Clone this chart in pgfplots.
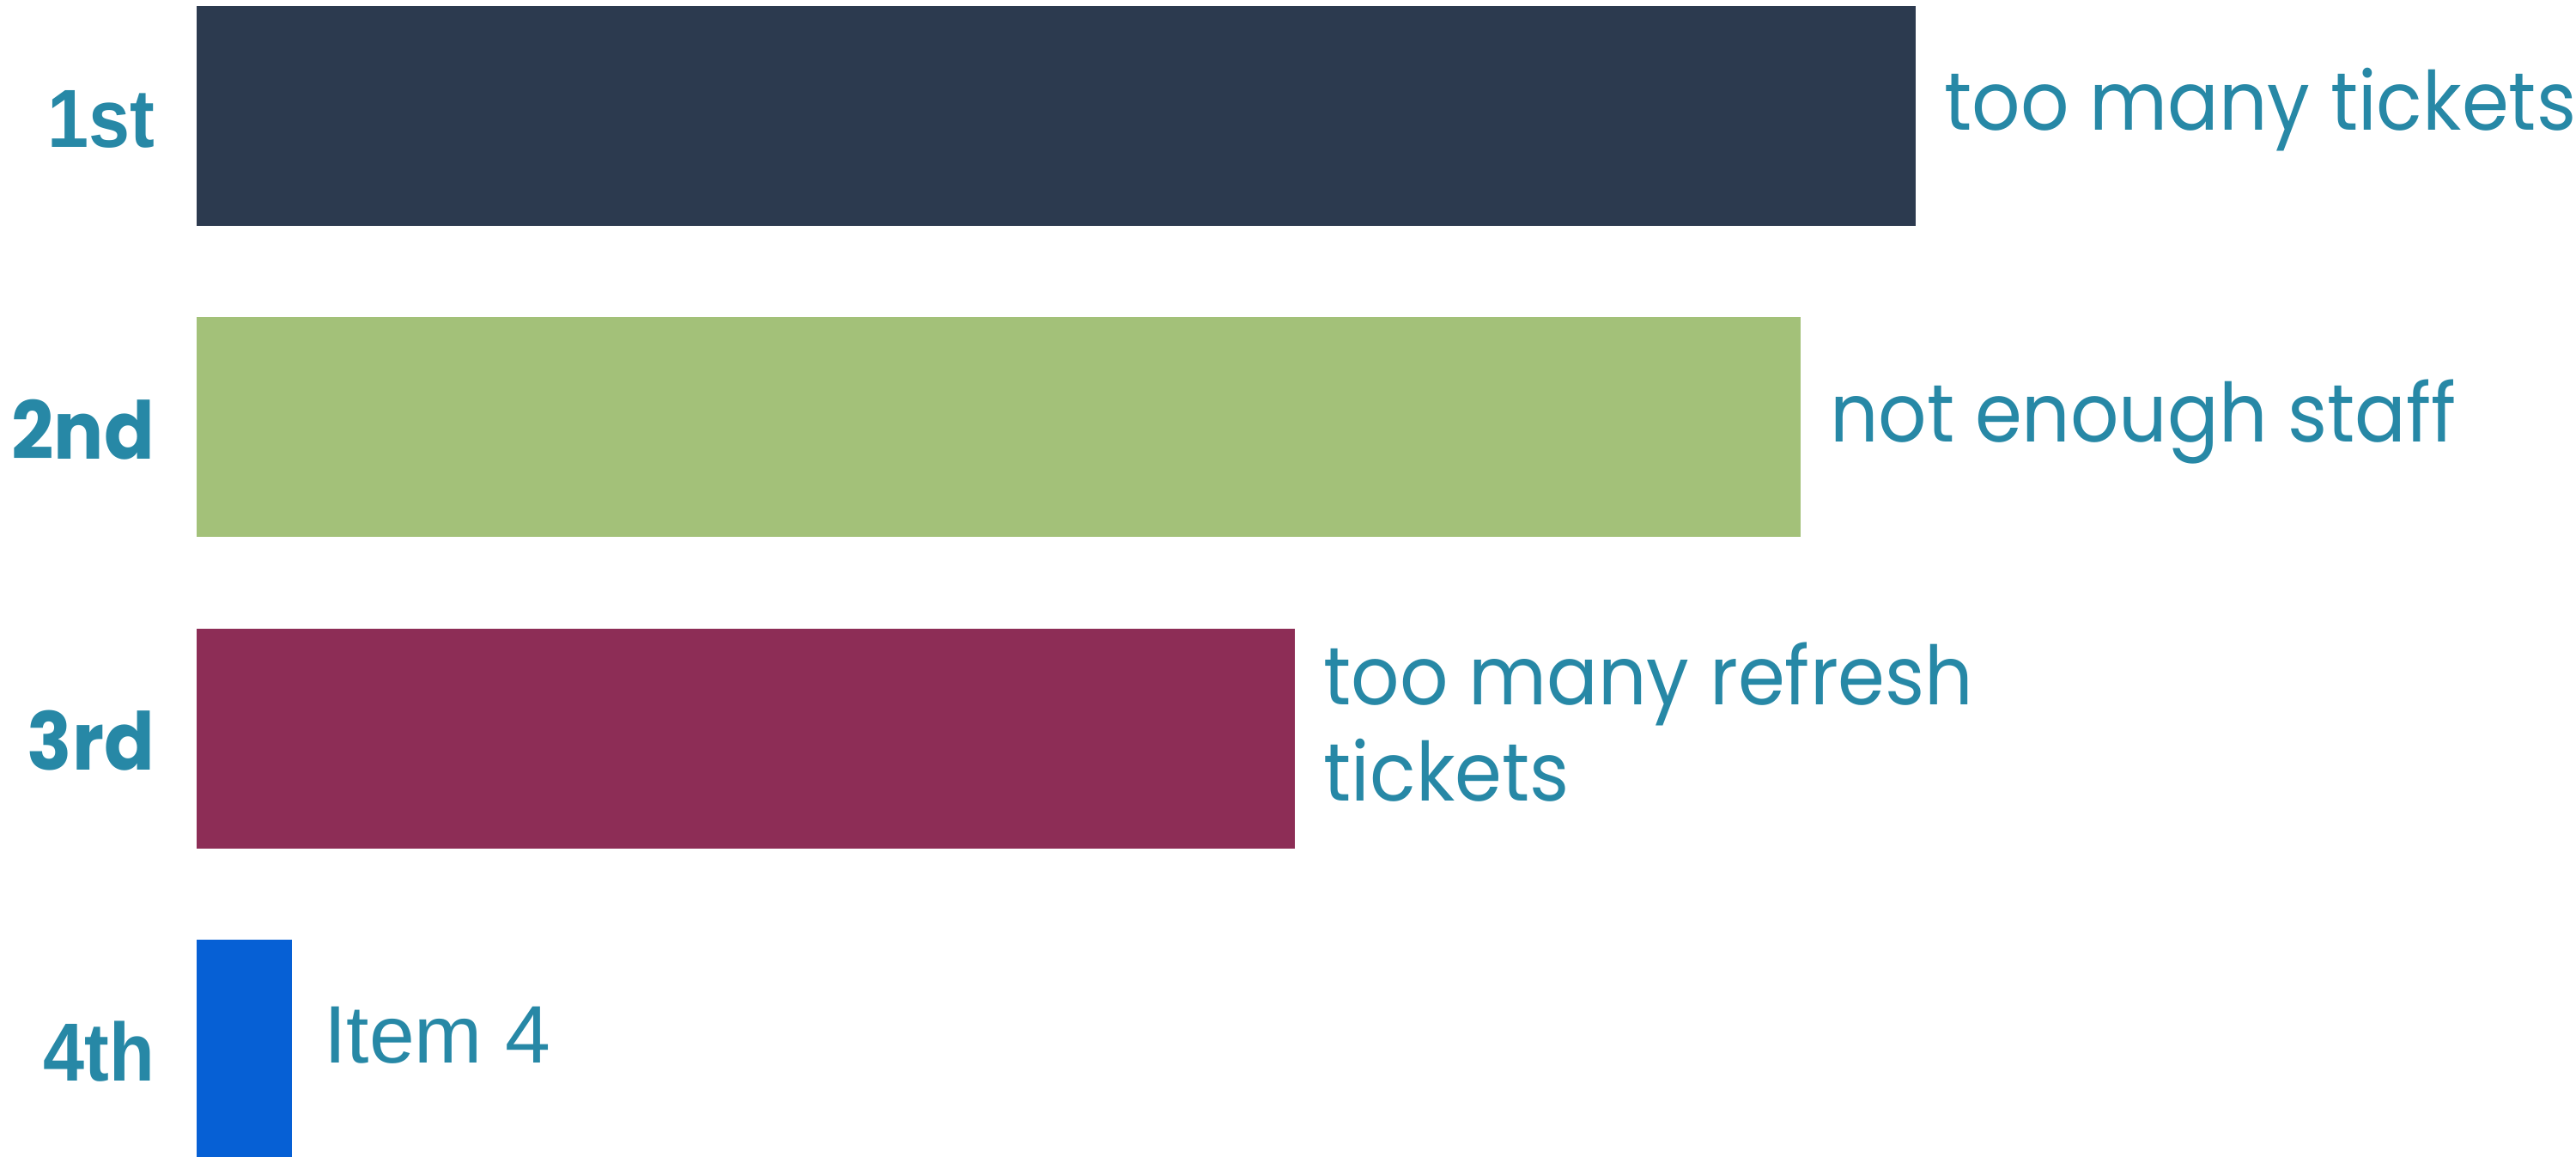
\documentclass[border=0pt]{standalone}
\usepackage{pgfplots}
\pgfplotsset{compat=1.18}
\usepackage{fontspec}
\setmainfont{Poppins}[FakeStretch=0.93]
\newfontfamily\arialf{Liberation Sans}
\newfontfamily\arialb{Liberation Sans Bold}[FakeStretch=0.9]
\definecolor{cA}{HTML}{2C3A4F}
\definecolor{cB}{HTML}{A3C179}
\definecolor{cC}{HTML}{8D2D56}
\definecolor{cD}{HTML}{0660D5}
\definecolor{tealc}{HTML}{2788A6}
\tikzset{
  valfont/.style={font=\fontsize{9.5}{10}\selectfont, text=tealc, inner sep=0pt},
  catfont/.style={font=\fontsize{9.6}{10}\selectfont, text=tealc, inner sep=0pt},
}
\begin{document}
\begin{tikzpicture}
\begin{axis}[
  width=300pt, height=134.6pt, scale only axis,
  xmin=-2.0594, xmax=24.919,
  ymin=-0.3726, ymax=3.3426, y dir=reverse,
  hide axis,
]
% bars
\addplot[xbar, bar width=0.7066, bar shift=0pt, fill=cA, draw=none,
  nodes near coords={too many tickets},
  nodes near coords style={valfont, anchor=base west, xshift=3.2pt, yshift=-1.7pt}]
  coordinates {(18,0)};
\addplot[xbar, bar width=0.7066, bar shift=0pt, fill=cB, draw=none,
  nodes near coords={not enough staff},
  nodes near coords style={valfont, anchor=base west, xshift=3.2pt, yshift=-1.7pt}]
  coordinates {(16.8,1)};
\addplot[xbar, bar width=0.7066, bar shift=0pt, fill=cC, draw=none,
  nodes near coords={\fontsize{9.5}{11.2}\selectfont\begin{tabular}[t]{@{}l@{}}too many refresh\\tickets\end{tabular}},
  nodes near coords style={valfont, anchor=base west, xshift=3.2pt, yshift=3.9pt}]
  coordinates {(11.5,2)};
\addplot[xbar, bar width=0.7066, bar shift=0pt, fill=cD, draw=none,
  nodes near coords={\arialf Item 4},
  nodes near coords style={valfont, anchor=base west, xshift=3.5pt, yshift=-1.6pt}]
  coordinates {(1,3)};
% category labels
\addplot[draw=none, mark=none,
  nodes near coords={\arialb 1st},
  nodes near coords style={catfont, anchor=base east, yshift=-3.7pt}]
  coordinates {(-0.4227,0)};
\addplot[draw=none, mark=none,
  nodes near coords={\fontsize{9.3}{10}\selectfont\bfseries 2nd},
  nodes near coords style={catfont, anchor=base east, yshift=-3.7pt}]
  coordinates {(-0.4227,1)};
\addplot[draw=none, mark=none,
  nodes near coords={\fontsize{9.3}{10}\selectfont\bfseries 3rd},
  nodes near coords style={catfont, anchor=base east, yshift=-3.7pt}]
  coordinates {(-0.4227,2)};
\addplot[draw=none, mark=none,
  nodes near coords={\arialb 4th},
  nodes near coords style={catfont, anchor=base east, yshift=-3.7pt}]
  coordinates {(-0.4227,3)};
\end{axis}
\pgfresetboundingbox
\path (current axis.south west) rectangle (current axis.north east);
\end{tikzpicture}
\end{document}
